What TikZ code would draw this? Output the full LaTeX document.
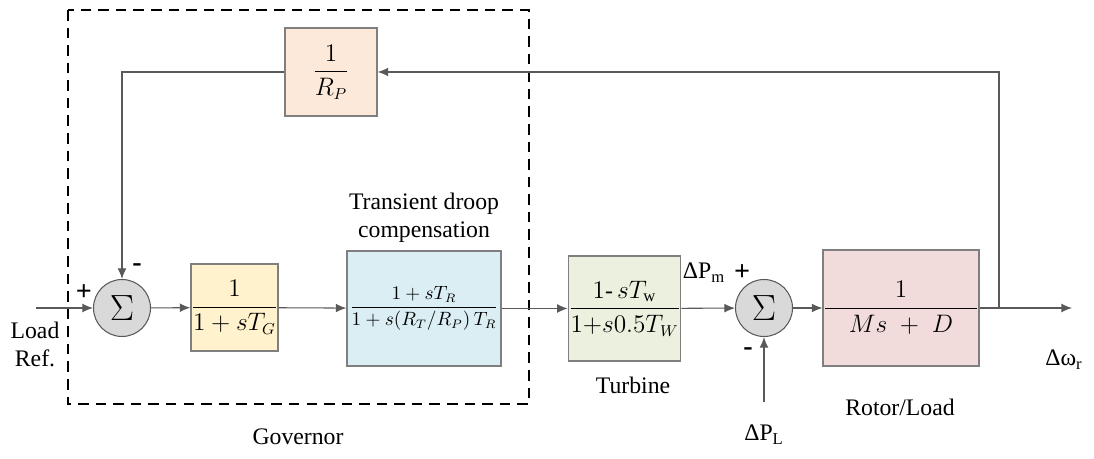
\documentclass[tikz,border=0pt]{standalone}
\usepackage{fontspec}
\setmainfont{Liberation Serif}
\usetikzlibrary{arrows.meta,positioning}
\definecolor{GovFill}{HTML}{FFF2CC}
\definecolor{DroopFill}{HTML}{DAEEF3}
\definecolor{TurbFill}{HTML}{EBF1DE}
\definecolor{RotorFill}{HTML}{F2DCDB}
\definecolor{DroopGain}{HTML}{FCE9DA}
\definecolor{SumFill}{HTML}{D9D9D9}
\definecolor{BoxLine}{HTML}{7F7F7F}
\definecolor{WireLine}{HTML}{595959}

\begin{document}
\begin{tikzpicture}[x=0.02cm, y=-0.02cm,
  font=\fontsize{13.5}{16}\selectfont,
  box/.style={draw=BoxLine, line width=0.8pt, inner sep=0pt},
  sum/.style={circle, draw=WireLine, line width=0.6pt, fill=SumFill,
    minimum size=1.14cm, inner sep=0pt, font=\fontsize{20}{22}\selectfont},
  wire/.style={draw=WireLine, line width=0.6pt, -{Latex[length=6pt,width=5pt]}},
  sign/.style={font=\fontsize{16}{16}\selectfont\bfseries, inner sep=0pt}]
  \useasboundingbox (0,0) rectangle (1094,459);

  % governor frame
  \draw[dashed, line width=0.8pt, dash pattern=on 6pt off 4pt] (68,10) rectangle (529,404);
  \node (govlbl) at (298,437) {Governor};

  % blocks
  \node[sum] (sumA) at (122,308) {$\Sigma$};
  \node[box, fill=GovFill, minimum width=1.74cm, minimum height=1.74cm]
    (gov) at (234.5,307.5) {$\displaystyle\frac{1}{1+sT_G}$};
  \node[box, fill=DroopFill, minimum width=3.08cm, minimum height=2.3cm,
    font=\fontsize{10.5}{12}\selectfont]
    (droop) at (424,308.5) {$\displaystyle\frac{1+sT_R}{1+s(R_T/R_P)\,T_R}$};
  \node[align=center] (droopl) at (424,218) {Transient droop\\compensation};
  \node[box, fill=TurbFill, minimum width=2.1cm, minimum height=2.1cm]
    (turb) at (624.5,308.5) {$\displaystyle\frac{1\mbox{-}\,sT_{\mathrm{w}}}{1{+}s0.5T_W}$};
  \node (turbl) at (633,385) {Turbine};
  \node[sum] (sumB) at (764,308) {$\Sigma$};
  \node[box, fill=RotorFill, minimum width=2.76cm, minimum height=2.32cm]
    (rotor) at (901,308) {$\displaystyle\frac{1}{\quad Ms\;+\;D\quad}$};
  \node (rotorl) at (900,407) {Rotor/Load};
  \node[box, fill=DroopGain, minimum width=1.84cm, minimum height=1.76cm]
    (rp) at (331,72) {$\displaystyle\frac{1}{R_P}$};

  % free ends
  \coordinate (ref) at (36,308);
  \coordinate (branch) at (999,308);
  \coordinate (out) at (1072,308);
  \coordinate (pl) at (764,402);

  % labels
  \node[align=center] (refl) at (35,344) {Load\\Ref.};
  \node[sign] (pA) at (84,293) {+};
  \node[sign] (mA) at (137,268) {-};
  \node (pm) at (704,273) {ΔP\textsubscript{m}};
  \node[sign] (pB) at (742,273) {+};
  \node[sign] (mB) at (748,352) {-};
  \node (pll) at (764,435) {ΔP\textsubscript{L}};
  \node (wr) at (1064,360) {Δω\textsubscript{r}};

  % signal path
  \draw[wire] (ref) -- (sumA.west);
  \draw[wire] (sumA) -- (gov);
  \draw[wire] (gov) -- (droop);
  \draw[wire] (droop) -- (turb);
  \draw[wire] (turb) -- (sumB);
  \draw[wire] (sumB) -- (rotor);
  \draw[wire] (rotor) -- (out);
  \draw[wire] (pl) -- (sumB.south);
  \draw[wire] (branch) |- (rp.east);
  \draw[wire] (rp.west) -| (sumA.north);
\end{tikzpicture}
\end{document}
